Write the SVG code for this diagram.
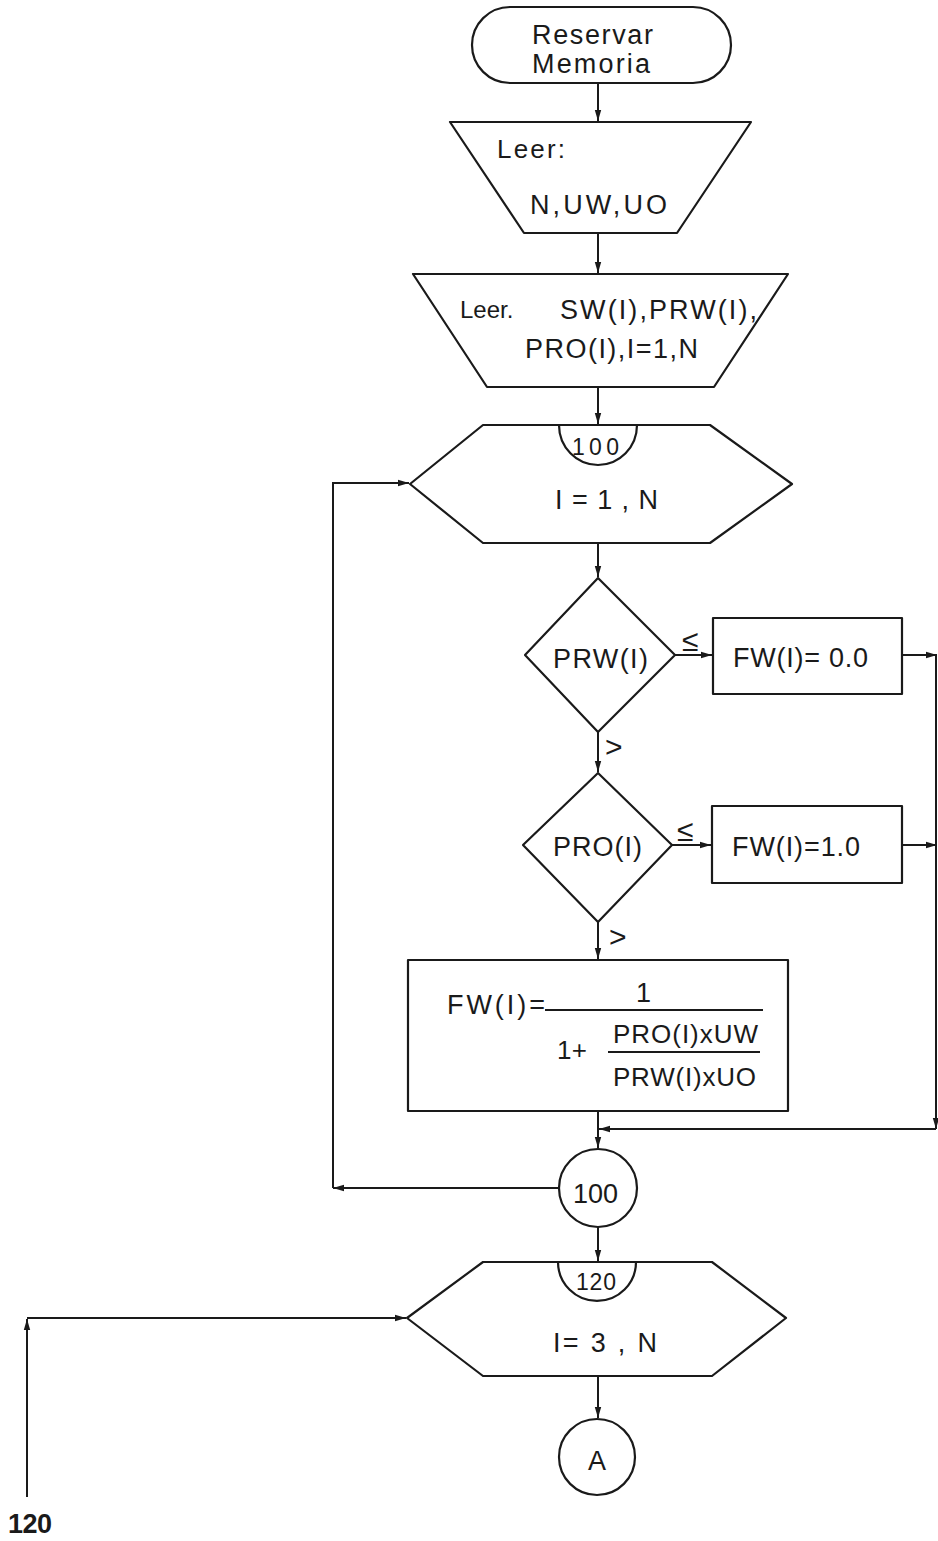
<svg xmlns="http://www.w3.org/2000/svg" width="938" height="1541" viewBox="0 0 938 1541">
<style>
.s{fill:#fff;stroke:#1a1a1a;stroke-width:2.2;stroke-linejoin:round}
.c{fill:none;stroke:#1a1a1a;stroke-width:2}
.t{font-family:"Liberation Sans","DejaVu Sans",sans-serif;font-size:27px;fill:#1a1a1a}
.b{font-weight:bold}
.m{font-size:24px}
.f{font-size:26px}
.n{font-size:23px}
.r{font-size:30px}
</style>
<defs>
<marker id="ah" markerUnits="userSpaceOnUse" markerWidth="12" markerHeight="8" refX="11" refY="4" orient="auto">
<path d="M0,0.8 L11,4 L0,7.2 Z" fill="#1a1a1a"/>
</marker>
</defs>
<rect width="938" height="1541" fill="#fff"/>
<g id="connectors">
<line class="c" x1="598" y1="83" x2="598" y2="121" marker-end="url(#ah)"/>
<line class="c" x1="598" y1="233" x2="598" y2="273" marker-end="url(#ah)"/>
<line class="c" x1="598" y1="387" x2="598" y2="424" marker-end="url(#ah)"/>
<line class="c" x1="598" y1="543" x2="598" y2="577" marker-end="url(#ah)"/>
<line class="c" x1="675" y1="655" x2="712" y2="655" marker-end="url(#ah)"/>
<line class="c" x1="598" y1="732" x2="598" y2="772" marker-end="url(#ah)"/>
<line class="c" x1="672" y1="845" x2="711" y2="845" marker-end="url(#ah)"/>
<line class="c" x1="598" y1="922" x2="598" y2="959" marker-end="url(#ah)"/>
<line class="c" x1="902" y1="655" x2="937" y2="655" marker-end="url(#ah)"/>
<line class="c" x1="902" y1="845" x2="937" y2="845" marker-end="url(#ah)"/>
<line class="c" x1="936" y1="655" x2="936" y2="1129" marker-end="url(#ah)"/>
<line class="c" x1="936" y1="1129" x2="599" y2="1129" marker-end="url(#ah)"/>
<line class="c" x1="598" y1="1111" x2="598" y2="1148" marker-end="url(#ah)"/>
<line class="c" x1="559" y1="1188" x2="333" y2="1188" marker-end="url(#ah)"/>
<polyline class="c" points="333,1188 333,483 409,483" marker-end="url(#ah)"/>
<line class="c" x1="598" y1="1227" x2="598" y2="1261" marker-end="url(#ah)"/>
<line class="c" x1="598" y1="1376" x2="598" y2="1418" marker-end="url(#ah)"/>
<line class="c" x1="27" y1="1497" x2="27" y2="1319" marker-end="url(#ah)"/>
<line class="c" x1="27" y1="1318" x2="406" y2="1318" marker-end="url(#ah)"/>
</g>
<g id="start">
<rect class="s" x="472" y="7" width="259" height="76" rx="38" ry="38"/>
<text class="t" x="532" y="44" textLength="121" lengthAdjust="spacing">Reservar</text>
<text class="t" x="532" y="73" textLength="118" lengthAdjust="spacing">Memoria</text>
</g>
<g id="read1">
<polygon class="s" points="450,122 751,122 677,233 524,233"/>
<text class="t f" x="497" y="158" textLength="68" lengthAdjust="spacing">Leer:</text>
<text class="t" x="530" y="214" textLength="137" lengthAdjust="spacing">N,UW,UO</text>
</g>
<g id="read2">
<polygon class="s" points="413,274 788,274 714,387 487,387"/>
<text class="t m" x="460" y="318">Leer.</text>
<text class="t" x="560" y="319" textLength="197" lengthAdjust="spacing">SW(I),PRW(I),</text>
<text class="t" x="525" y="358" textLength="173" lengthAdjust="spacing">PRO(I),I=1,N</text>
</g>
<g id="loop100">
<polygon class="s" points="483,425 710,425 792,484 710,543 483,543 410,484"/>
<path class="s" d="M559,425 A39,40 0 0 0 637,425 Z"/>
<text class="t n" x="572" y="455" textLength="47" lengthAdjust="spacing">100</text>
<text class="t" x="555" y="509" textLength="103" lengthAdjust="spacing">I = 1 , N</text>
</g>
<g id="dec1">
<polygon class="s" points="598,578 675,655 598,732 525,655"/>
<text class="t" x="553" y="668" textLength="95" lengthAdjust="spacing">PRW(I)</text>
<text class="t r" x="682" y="651">≤</text>
<text class="t r" x="605" y="757">&gt;</text>
</g>
<g id="box00">
<rect class="s" x="713" y="618" width="189" height="76"/>
<text class="t" x="733" y="667" textLength="135" lengthAdjust="spacing">FW(I)= 0.0</text>
</g>
<g id="dec2">
<polygon class="s" points="598,773 672,845 598,922 523,845"/>
<text class="t" x="553" y="856" textLength="89" lengthAdjust="spacing">PRO(I)</text>
<text class="t r" x="677" y="841">≤</text>
<text class="t r" x="609" y="947">&gt;</text>
</g>
<g id="box10">
<rect class="s" x="712" y="806" width="190" height="77"/>
<text class="t" x="732" y="856" textLength="128" lengthAdjust="spacing">FW(I)=1.0</text>
</g>
<g id="formula">
<rect class="s" x="408" y="960" width="380" height="151"/>
<text class="t" x="447" y="1014" textLength="98" lengthAdjust="spacing">FW(I)=</text>
<line class="c" x1="545" y1="1010" x2="763" y2="1010"/>
<text class="t" x="636" y="1002">1</text>
<text class="t f" x="557" y="1059" textLength="30" lengthAdjust="spacing">1+</text>
<line class="c" x1="608" y1="1052" x2="760" y2="1052"/>
<text class="t f" x="613" y="1043" textLength="145" lengthAdjust="spacing">PRO(I)xUW</text>
<text class="t f" x="613" y="1086" textLength="143" lengthAdjust="spacing">PRW(I)xUO</text>
</g>
<g id="end100">
<circle class="s" cx="598" cy="1188" r="39"/>
<text class="t" x="573" y="1203" textLength="45" lengthAdjust="spacing">100</text>
</g>
<g id="loop120">
<polygon class="s" points="483,1262 712,1262 786,1318 712,1376 483,1376 407,1318"/>
<path class="s" d="M558,1262 A39,39 0 0 0 636,1262 Z"/>
<text class="t n" x="576" y="1290" textLength="40" lengthAdjust="spacing">120</text>
<text class="t" x="553" y="1352" textLength="104" lengthAdjust="spacing">I=  3 , N</text>
</g>
<g id="connA">
<circle class="s" cx="597" cy="1457" r="38"/>
<text class="t" x="588" y="1470" textLength="19" lengthAdjust="spacing">A</text>
</g>
<g id="label120">
<text class="t b" x="8" y="1533" textLength="44" lengthAdjust="spacing">120</text>
</g>
</svg>
